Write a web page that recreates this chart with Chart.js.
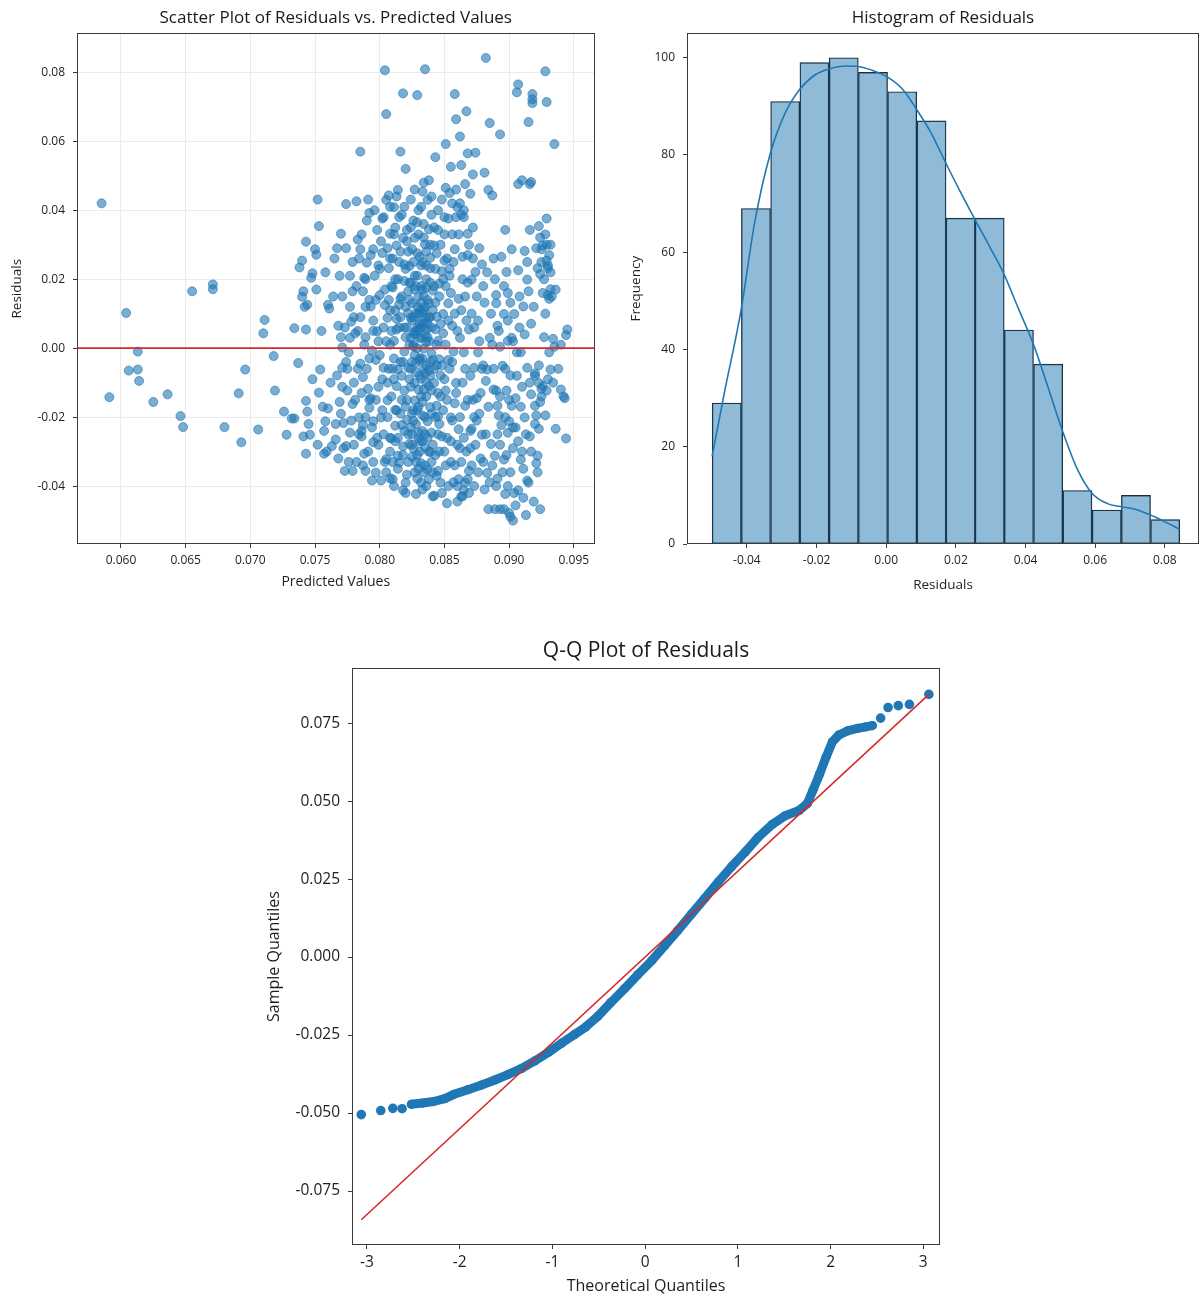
<!DOCTYPE html>
<html>
<head>
<meta charset="utf-8">
<title>Residual diagnostics</title>
<script src="https://cdn.jsdelivr.net/npm/chart.js@4.4.1/dist/chart.umd.min.js"></script>
<style>
  html, body { margin: 0; padding: 0; background: #fff; }
  body { width: 1201px; height: 1298px; position: relative; overflow: hidden; }
  .panel { position: absolute; }
  #scatter-wrap { left: 0; top: 0; width: 600px; height: 600px; }
  #hist-wrap { left: 600px; top: 0; width: 601px; height: 600px; }
  #qq-wrap { left: 250px; top: 630px; width: 700px; height: 668px; }
</style>
</head>
<body>
<div class="panel" id="scatter-wrap"><canvas id="scatter"></canvas></div>
<div class="panel" id="hist-wrap"><canvas id="hist"></canvas></div>
<div class="panel" id="qq-wrap"><canvas id="qq"></canvas></div>

<script>
// ---- data ----

// residuals vs predicted values: [predicted, residual]
const residualPoints = [
  [.0585,.0420],[.0591,-.0142],[.0604,.0102],[.0606,-.0065],[.0613,-.0062],[.0613,-.0010],[.0614,-.0095],[.0625,-.0156],
  [.0636,-.0134],[.0646,-.0197],[.0648,-.0229],[.0655,.0165],[.0671,.0185],[.0671,.0171],[.0680,-.0229],[.0691,-.0131],
  [.0693,-.0273],[.0696,-.0062],[.0706,-.0236],[.0710,.0043],[.0711,.0082],[.0718,-.0023],[.0719,-.0123],[.0726,-.0184],
  [.0728,-.0251],[.0732,-.0204],[.0734,-.0204],[.0734,.0058],[.0737,-.0043],[.0738,.0234],[.0740,.0254],[.0740,.0149],
  [.0741,.0165],[.0743,.0309],[.0743,.0054],[.0743,-.0153],[.0744,-.0184],[.0741,-.0256],[.0743,-.0306],[.0744,.0126],
  [.0746,-.0251],[.0747,.0204],[.0748,.0217],[.0750,.0287],[.0751,.0271],[.0752,.0431],[.0753,.0354],[.0753,-.0129],
  [.0754,-.0062],[.0757,-.0240],[.0757,-.0306],[.0758,-.0212],[.0760,-.0175],[.0760,.0126],[.0761,.0115],[.0763,-.0284],
  [.0765,.0260],[.0766,-.0265],[.0767,-.0079],[.0768,.0065],[.0769,-.0156],[.0769,.0210],[.0770,.0032],[.0770,.0332],
  [.0771,-.0057],[.0771,-.0112],[.0771,.0002],[.0772,-.0217],[.0773,-.0356],[.0774,-.0284],[.0774,.0418],[.0775,-.0123],
  [.0776,-.0012],[.0777,-.0245],[.0777,.0210],[.0778,.0077],[.0779,-.0162],[.0779,.0165],[.0779,-.0356],[.0781,.0043],
  [.0782,.0426],[.0783,.0315],[.0784,-.0201],[.0785,.0570],[.0785,.0287],[.0785,-.0045],[.0786,-.0256],[.0787,-.0223],
  [.0787,.0165],[.0787,-.0084],[.0788,.0204],[.0788,-.0306],[.0789,.0032],[.0789,-.0356],[.0790,.0248],[.0791,.0431],
  [.0791,-.0118],[.0792,.0392],[.0792,-.0173],[.0793,.0121],[.0793,-.0145],[.0794,-.0007],[.0794,-.0384],[.0795,-.0212],
  [.0795,.0287],[.0795,-.0273],[.0796,.0210],[.0797,-.0034],[.0797,-.0361],[.0798,.0343],[.0798,.0049],[.0799,-.0112],
  [.0800,.0154],[.0801,-.0384],[.0801,-.0201],[.0802,.0276],[.0802,.0376],[.0803,-.0057],[.0804,.0806],[.0805,-.0322],
  [.0805,.0679],[.0806,.0088],[.0806,-.0151],[.0807,.0443],[.0807,.0232],[.0808,-.0378],[.0808,.0010],[.0808,.0332],
  [.0809,-.0262],[.0810,.0176],[.0811,-.0090],[.0811,.0409],[.0811,-.0400],[.0812,-.0179],[.0813,.0298],[.0813,.0054],
  [.0814,.0459],[.0814,-.0312],[.0815,.0126],[.0816,-.0040],[.0816,.0570],[.0817,-.0223],[.0817,.0387],[.0818,-.0412],
  [.0818,.0739],[.0819,.0243],[.0819,-.0123],[.0820,.0520],[.0820,.0032],[.0821,.0343],[.0821,-.0367],[.0822,.0165],
  [.0822,-.0057],[.0823,-.0278],[.0824,.0431],[.0824,.0088],[.0825,-.0190],[.0825,.0287],[.0826,.0010],[.0827,-.0101],
  [.0827,.0210],[.0828,-.0423],[.0829,.0734],[.0829,.0365],[.0830,.0054],[.0830,-.0245],[.0831,-.0029],[.0831,.0265],
  [.0832,-.0334],[.0832,.0132],[.0833,-.0156],[.0833,.0454],[.0834,-.0001],[.0834,.0321],[.0835,.0809],[.0835,-.0073],
  [.0836,-.0400],[.0836,.0176],[.0837,.0032],[.0837,-.0212],[.0838,.0487],[.0838,.0088],[.0839,-.0301],[.0839,.0232],
  [.0840,-.0123],[.0840,.0387],[.0841,-.0034],[.0842,-.0428],[.0842,.0298],[.0843,.0132],[.0843,.0554],[.0844,-.0167],
  [.0845,.0021],[.0845,.0343],[.0845,-.0356],[.0846,.0187],[.0847,-.0079],[.0848,.0431],[.0848,-.0256],[.0849,.0099],
  [.0850,.0254],[.0851,-.0123],[.0851,.0592],[.0851,.0465],[.0852,-.0450],[.0853,-.0034],[.0853,.0376],[.0854,.0210],
  [.0855,-.0201],[.0855,.0526],[.0856,.0065],[.0857,-.0389],[.0858,.0737],[.0858,.0287],[.0859,.0664],[.0859,-.0101],
  [.0860,.0409],[.0860,-.0445],[.0861,.0143],[.0862,.0614],[.0862,-.0290],[.0863,.0531],[.0863,.0387],[.0864,.0265],
  [.0865,-.0012],[.0865,-.0412],[.0866,.0476],[.0866,-.0167],[.0867,.0687],[.0868,.0332],[.0868,.0565],[.0869,.0054],
  [.0869,-.0356],[.0870,.0448],[.0871,.0199],[.0871,-.0234],[.0872,.0504],[.0873,-.0057],[.0874,.0221],[.0874,.0567],
  [.0875,-.0145],[.0876,-.0012],[.0877,-.0190],[.0879,.0243],[.0879,-.0251],[.0881,.0509],[.0881,.0132],[.0882,-.0095],
  [.0882,.0842],[.0883,-.0062],[.0883,-.0362],[.0884,-.0467],[.0884,.0459],[.0885,-.0389],[.0885,.0653],[.0886,-.0278],
  [.0887,.0443],[.0887,.0010],[.0888,.0260],[.0889,-.0467],[.0889,-.0312],[.0890,-.0123],[.0890,.0154],[.0891,-.0167],
  [.0891,-.0378],[.0891,.0065],[.0892,-.0195],[.0893,-.0467],[.0893,.0620],[.0893,.0004],[.0894,-.0223],[.0894,.0265],
  [.0895,-.0051],[.0896,-.0323],[.0896,-.0467],[.0896,.0099],[.0897,.0343],[.0897,-.0423],[.0898,-.0123],[.0898,.0221],
  [.0899,-.0245],[.0899,.0160],[.0899,.0021],[.0900,-.0212],[.0900,-.0478],[.0901,-.0079],[.0901,.0132],[.0901,-.0489],
  [.0902,-.0167],[.0902,.0287],[.0903,-.0500],[.0903,-.0290],[.0904,.0099],[.0905,-.0456],[.0905,-.0145],[.0906,-.0012],
  [.0906,.0742],[.0907,-.0412],[.0907,.0476],[.0907,.0226],[.0907,.0765],[.0908,.0060],[.0909,-.0323],[.0909,-.0012],
  [.0910,-.0112],[.0910,.0487],[.0911,.0121],[.0911,-.0434],[.0912,-.0201],[.0912,.0282],[.0913,-.0484],[.0914,-.0057],
  [.0914,.0199],[.0914,-.0384],[.0915,.0165],[.0915,.0656],[.0916,.0476],[.0916,.0343],[.0916,-.0256],[.0917,.0482],
  [.0917,-.0134],[.0917,.0071],[.0918,.0737],[.0918,.0711],[.0918,.0722],[.0919,-.0445],[.0920,-.0073],[.0920,-.0167],
  [.0921,-.0334],[.0921,-.0195],[.0922,-.0312],[.0922,.0232],[.0923,-.0234],[.0923,.0354],[.0923,-.0101],[.0924,-.0467],
  [.0924,.0321],[.0924,-.0156],[.0924,.0215],[.0925,.0287],[.0925,-.0118],[.0926,.0160],[.0926,.0298],[.0927,.0032],
  [.0928,-.0195],[.0928,.0803],[.0929,.0254],[.0929,-.0123],[.0929,.0376],[.0929,.0714],[.0930,.0154],[.0930,.0232],
  [.0931,.0143],[.0931,-.0012],[.0932,.0171],[.0932,-.0062],[.0934,.0027],[.0935,.0592],[.0935,.0004],[.0936,-.0234],
  [.0940,-.0120],[.0943,-.0145],[.0944,-.0262],[.0944,.0038],[.0945,.0054],
  // dense core
  [.0822,.0102],[.0826,.0045],[.0829,.0121],[.0831,.0071],[.0834,.0152],[.0836,.0018],[.0828,-.0043],[.0832,-.0088],
  [.0838,-.0065],[.0824,-.0112],[.0827,-.0152],[.0833,-.0195],[.0839,-.0171],[.0821,-.0208],[.0830,-.0262],[.0835,-.0288],
  [.0825,-.0315],[.0840,-.0245],[.0843,-.0310],[.0818,-.0285],[.0815,-.0332],[.0837,-.0352],[.0829,-.0378],[.0845,-.0198],
  [.0847,-.0140],[.0842,-.0101],[.0846,-.0032],[.0849,.0043],[.0844,.0091],[.0841,.0167],[.0848,.0223],[.0839,.0262],
  [.0835,.0301],[.0829,.0275],[.0823,.0238],[.0819,.0195],[.0816,.0143],[.0813,.0085],[.0811,.0021],[.0814,-.0062],
  [.0817,-.0150],[.0812,-.0225],[.0808,-.0260],[.0806,-.0100],[.0804,.0125],[.0808,.0260],[.0812,.0350],[.0819,.0410],
  [.0826,.0370],[.0832,.0410],[.0838,.0345],[.0844,.0275],[.0851,.0180],[.0853,.0080],[.0856,-.0040],[.0858,-.0160],
  [.0852,-.0260],[.0855,-.0330],[.0860,-.0400],[.0863,-.0430],[.0861,-.0235],[.0864,-.0100],[.0862,.0030],[.0866,.0150],
  [.0868,.0270],[.0865,.0380],[.0859,.0460],[.0856,.0420],[.0850,.0330],[.0854,.0230],[.0840,.0440],[.0834,.0480],
  [.0827,.0460],[.0821,.0310],[.0815,.0250],[.0809,.0180],[.0803,.0060],[.0800,-.0020],[.0802,-.0180],[.0799,-.0280],
  [.0805,-.0360],[.0810,-.0330],[.0820,-.0390],[.0833,-.0410],[.0841,-.0430],[.0847,-.0390],[.0850,-.0300],[.0836,-.0140],
  [.0831,-.0035],[.0826,.0005],[.0836,.0055],[.0833,.0105],[.0828,.0180],[.0843,.0055],[.0840,-.0015],[.0824,-.0060],
  [.0819,.0060],[.0830,-.0120],[.0845,-.0250],[.0825,-.0250],[.0813,-.0180],[.0795,.0080],[.0792,-.0150],[.0789,.0120],
  [.0786,-.0240],[.0783,.0050],[.0780,-.0100],[.0777,.0120],[.0774,-.0040],[.0870,-.0290],[.0873,-.0200],[.0876,.0080],
  [.0878,-.0320],[.0868,-.0380],[.0872,.0350],[.0880,-.0050],[.0905,-.0230],[.0910,-.0300],[.0915,-.0390],[.0920,-.0080],
  [.0925,-.0140],[.0930,.0240],[.0932,.0300],[.0928,.0330],[.0897,-.0060],[.0893,-.0280],[.0888,-.0120],[.0885,.0030],
  [.0882,-.0250],[.0899,-.0400],[.0903,.0020],[.0890,.0130],
  [.0800,.0230],[.0801,.0310],[.0802,-.0090],[.0803,.0380],[.0803,-.0250],[.0804,.0170],[.0804,-.0330],[.0805,.0020],
  [.0805,.0430],[.0806,-.0200],[.0806,.0290],[.0807,-.0060],[.0807,.0140],[.0808,-.0300],[.0808,.0410],[.0809,.0050],
  [.0809,-.0140],[.0810,.0260],[.0810,-.0380],[.0811,.0330],[.0811,-.0030],[.0812,.0110],[.0812,-.0270],[.0813,.0440],
  [.0813,-.0110],[.0814,.0200],[.0814,-.0350],[.0815,.0060],[.0815,.0380],[.0816,-.0190],[.0816,.0280],[.0817,-.0080],
  [.0817,.0150],[.0818,-.0310],[.0818,.0320],[.0819,-.0010],[.0819,-.0240],[.0820,.0230],[.0820,-.0420],[.0820,.0120],
  [.0821,.0060],[.0821,-.0150],[.0822,.0280],[.0822,-.0330],[.0823,.0010],[.0823,.0190],[.0823,-.0090],[.0824,.0350],
  [.0824,-.0230],[.0825,.0080],[.0825,.0130],[.0825,-.0040],[.0826,-.0290],[.0826,.0250],[.0826,-.0180],[.0827,.0040],
  [.0827,.0320],[.0827,-.0360],[.0828,-.0070],[.0828,.0100],[.0828,-.0220],[.0829,.0210],[.0829,.0000],[.0829,-.0310],
  [.0830,.0150],[.0830,-.0170],[.0830,.0400],[.0831,-.0080],[.0831,.0110],[.0831,-.0270],[.0832,.0030],[.0832,.0240],
  [.0832,-.0390],[.0833,-.0030],[.0833,.0170],[.0833,-.0240],[.0834,.0070],[.0834,-.0120],[.0834,.0360],[.0835,-.0200],
  [.0835,.0120],[.0835,-.0340],[.0836,.0240],[.0836,-.0050],[.0836,.0090],[.0837,-.0260],[.0837,.0140],[.0837,.0430],
  [.0838,-.0110],[.0838,.0020],[.0838,-.0380],[.0839,.0190],[.0839,-.0080],[.0839,.0300],[.0840,.0060],[.0840,-.0190],
  [.0840,-.0330],[.0836,.0200],[.0832,.0060],[.0828,.0050],
  [.0841,.0110],[.0841,-.0280],[.0842,.0350],[.0842,-.0060],[.0843,-.0200],[.0843,.0230],[.0844,-.0370],[.0844,.0010],
  [.0845,.0400],[.0845,-.0130],[.0846,.0150],[.0846,-.0300],[.0847,.0070],[.0847,.0300],[.0848,-.0050],[.0848,-.0420],
  [.0849,.0200],[.0849,-.0180],[.0850,.0380],[.0850,-.0090],[.0851,.0010],[.0851,-.0340],[.0852,.0260],[.0852,-.0150],
  [.0853,.0130],[.0853,-.0400],[.0854,-.0060],[.0854,.0450],[.0855,-.0270],[.0855,.0160],[.0856,.0330],[.0856,-.0210],
  [.0857,-.0010],[.0857,.0250],[.0858,-.0340],[.0858,.0100],[.0859,-.0130],[.0859,.0380],[.0860,-.0280],[.0860,.0050],
  [.0861,-.0380],[.0861,.0330],[.0862,-.0200],[.0862,.0420],[.0863,-.0330],[.0863,.0110],[.0864,-.0430],[.0864,.0200],
  [.0865,-.0260],[.0865,.0400],[.0866,-.0060],[.0866,-.0390],[.0867,.0080],[.0867,-.0300],[.0868,-.0150],[.0868,.0190],
  [.0869,-.0420],[.0869,.0300],[.0870,-.0080],[.0870,-.0240],[.0871,.0100],[.0871,-.0340],[.0872,-.0150],[.0872,.0260],
  [.0873,-.0400],[.0873,.0060],[.0874,-.0280],[.0875,.0150],[.0875,-.0210],[.0876,-.0360],[.0877,.0020],[.0877,.0290],
  [.0878,-.0130],[.0879,-.0060],[.0880,-.0330],[.0880,.0180],
  [.0770,-.0190],[.0771,.0150],[.0772,-.0290],[.0773,.0060],[.0774,.0290],[.0775,-.0060],[.0776,-.0330],[.0777,.0030],
  [.0778,-.0210],[.0779,.0250],[.0780,-.0280],[.0780,.0090],[.0781,-.0150],[.0782,.0180],[.0782,-.0330],[.0783,-.0060],
  [.0784,.0260],[.0784,-.0250],[.0785,.0090],[.0786,.0330],[.0786,-.0130],[.0787,-.0340],[.0788,.0010],[.0789,.0200],
  [.0789,-.0200],[.0790,-.0060],[.0790,.0370],[.0791,-.0300],[.0792,.0140],[.0792,-.0030],[.0793,.0270],[.0794,-.0230],
  [.0795,.0050],[.0795,-.0330],[.0796,.0400],[.0797,-.0150],[.0797,.0140],[.0798,-.0260],[.0799,.0240],[.0799,.0020],
  [.0881,-.0410],[.0883,.0220],[.0884,-.0170],[.0886,.0100],[.0887,-.0340],[.0888,-.0060],[.0889,.0200],[.0890,-.0400],
  [.0891,-.0250],[.0892,.0050],[.0893,-.0140],[.0895,-.0360],[.0896,.0180],[.0897,-.0200],[.0898,-.0310],[.0899,.0080],
  [.0900,-.0150],[.0901,-.0360],[.0902,.0030],[.0903,-.0230],[.0904,-.0420],[.0906,-.0080],[.0907,-.0270],[.0908,.0150],
  [.0909,-.0170],[.0911,-.0350],[.0912,.0040],[.0913,-.0250],[.0914,.0250],[.0916,-.0100],[.0917,-.0300],[.0919,.0120],
  [.0920,-.0220],[.0921,.0290],[.0922,-.0360],[.0923,-.0050],[.0925,.0250],[.0926,-.0110],[.0927,.0200],[.0928,.0100],
  [.0929,.0300],[.0930,-.0090],[.0931,.0270],[.0932,.0220],[.0933,.0150],[.0934,-.0100],[.0936,.0170],[.0938,-.0060],
  [.0940,.0010],[.0942,-.0140],
  [.0742,.0120],[.0745,-.0220],[.0748,-.0090],[.0751,.0170],[.0752,-.0280],[.0755,.0050],[.0756,-.0170],[.0758,.0220],
  [.0759,-.0300],[.0762,-.0100],[.0764,.0150],[.0766,-.0220],[.0767,.0290],[.0768,-.0320],
  [.0823,.0140],[.0824,.0030],[.0826,.0090],[.0827,.0170],[.0829,.0060],[.0830,.0100],[.0831,.0030],[.0833,.0080],
  [.0834,.0110],[.0835,.0040],[.0837,.0070],[.0838,.0130],[.0825,-.0280],[.0828,-.0330],[.0831,-.0300],[.0833,-.0270],
  [.0835,-.0250],[.0838,-.0300],[.0834,-.0360],[.0830,-.0350],[.0826,-.0210],[.0832,-.0140],[.0836,-.0100],[.0839,-.0040],
  [.0829,-.0180],[.0834,-.0060],[.0827,-.0020],[.0832,.0180],[.0836,.0280],[.0830,.0330],[.0833,.0250],[.0839,.0090],
  [.0842,.0180],[.0844,-.0050],[.0846,-.0220],[.0841,-.0360],[.0818,-.0040],[.0816,.0090],[.0814,-.0260],[.0812,.0200],
  [.0810,-.0060],[.0808,.0110],[.0820,-.0170],[.0822,-.0250],[.0824,.0190]
]
const scatterXRange = [0.0566, 0.0966]
const scatterYRange = [-0.0568, 0.0913]
const scatterXTicks = [0.060, 0.065, 0.070, 0.075, 0.080, 0.085, 0.090, 0.095]
const scatterYTicks = [-0.04, -0.02, 0.00, 0.02, 0.04, 0.06, 0.08]

// histogram of residuals
const binEdges = [-0.0500, -0.0416, -0.0332, -0.0248, -0.0164, -0.0080, 0.0004, 0.0088, 0.0172,
  0.0255, 0.0339, 0.0423, 0.0507, 0.0591, 0.0675, 0.0759, 0.0843]
const binCounts = [29, 69, 91, 99, 100, 97, 93, 87, 67, 67, 44, 37, 11, 7, 10, 5]
const kdeX = [-0.0500, -0.0465, -0.0417, -0.0378, -0.0334, -0.0291, -0.0248, -0.0204, -0.0164, -0.0117, -0.0080,
  -0.0040, 0.0004, 0.0047, 0.0086, 0.0129, 0.0170, 0.0210, 0.0254, 0.0298, 0.0338, 0.0379, 0.0423, 0.0461,
  0.0505, 0.0548, 0.0590, 0.0635, 0.0672, 0.0712, 0.0757, 0.0799, 0.0843]
const kdeY = [18, 31, 48, 66, 80, 88.5, 93.5, 96.5, 97.7, 98.3, 98.2, 97.4, 96.0, 93.5, 89.5, 84.5, 78.5,
  72.8, 66.8, 61, 55.5, 48.5, 41, 33, 23.5, 15.5, 10.5, 8.3, 7.7, 7.2, 6.0, 4.6, 3.0]
const histXRange = [-0.0572, 0.0898]
const histYRange = [0, 105]
const histXTicks = [-0.04, -0.02, 0.00, 0.02, 0.04, 0.06, 0.08]
const histYTicks = [0, 20, 40, 60, 80, 100]

// Q-Q plot: theoretical vs sample quantiles
const qqLowT = [-3.06, -2.85, -2.72, -2.62]
const qqLowS = [-0.0505, -0.0492, -0.0485, -0.0486]
const qqMidT = [-2.52, -2.40, -2.28, -2.16, -2.06, -1.91, -1.77, -1.62, -1.48, -1.33, -1.19, -1.04, -0.90,
  -0.76, -0.64, -0.51, -0.37, -0.22, -0.08, 0.07, 0.21, 0.35, 0.50, 0.64, 0.79, 0.93, 1.08, 1.22, 1.37,
  1.51, 1.66, 1.75, 1.81, 1.88, 1.95, 2.02, 2.09, 2.19, 2.29, 2.38, 2.45]
const qqMidS = [-0.0472, -0.0468, -0.0463, -0.0454, -0.0440, -0.0425, -0.0411, -0.0394, -0.0377, -0.0357,
  -0.0333, -0.0305, -0.0276, -0.0248, -0.0224, -0.0190, -0.0146, -0.0101, -0.0057, -0.0012, 0.0036, 0.0084,
  0.0138, 0.0187, 0.0241, 0.0289, 0.0337, 0.0384, 0.0425, 0.0453, 0.0470, 0.0492, 0.0535, 0.0585, 0.0640,
  0.0690, 0.0712, 0.0726, 0.0733, 0.0738, 0.0742]
const qqHighT = [2.54, 2.62, 2.73, 2.85, 3.06]
const qqHighS = [0.0766, 0.0800, 0.0806, 0.0810, 0.0842]
const qqLineT = [-3.06, 3.06]
const qqLineS = [-0.0842, 0.0842]
const qqXRange = [-3.16, 3.18]
const qqYRange = [-0.0923, 0.0926]
const qqXTicks = [-3, -2, -1, 0, 1, 2, 3]
const qqYTicks = [-0.075, -0.050, -0.025, 0.000, 0.025, 0.050, 0.075]

// ---- styling ----
const FONT = '"Open Sans", "Noto Sans", sans-serif'
const BLUE = '#1f77b4'
const RED = '#d62a2a'
const TEXT = '#1e1e1e'
Chart.defaults.font.family = FONT
Chart.defaults.color = TEXT

const framePlugin = {
  id: 'frame',
  afterDraw(chart) {
    const { ctx, chartArea: a } = chart
    ctx.save()
    ctx.strokeStyle = '#3b3b3b'
    ctx.lineWidth = 1
    ctx.strokeRect(Math.round(a.left) + 0.5, Math.round(a.top) + 0.5,
      Math.round(a.right - a.left) - 1, Math.round(a.bottom - a.top) - 1)
    ctx.restore()
  }
}

function scale(o) {
  return {
    type: 'linear',
    min: o.range[0],
    max: o.range[1],
    offset: false,
    afterBuildTicks: s => { s.ticks = o.ticks.map(v => ({ value: v })) },
    afterFit: s => { if (o.horizontal) s.height = o.size; else s.width = o.size },
    ticks: {
      autoSkip: false,
      maxRotation: 0,
      color: TEXT,
      padding: o.tickPad,
      font: { size: o.tickSize },
      callback: v => o.fmt(v)
    },
    grid: {
      display: true,
      drawOnChartArea: !!o.grid,
      color: '#ebebeb',
      tickColor: '#3b3b3b',
      tickLength: 4,
      offset: false
    },
    border: { display: false },
    title: {
      display: true,
      text: o.title,
      color: TEXT,
      font: { size: o.titleSize },
      padding: o.titlePad
    }
  }
}

function baseOptions(title, titleSize, titlePad, padRight, scales) {
  return {
    responsive: true,
    maintainAspectRatio: false,
    animation: false,
    layout: { padding: { left: 0, right: padRight, top: 0, bottom: 0 } },
    plugins: {
      legend: { display: false },
      tooltip: { enabled: false },
      title: {
        display: true,
        text: title,
        color: '#1a1a1a',
        fullSize: false,
        font: { size: titleSize, weight: 'normal' },
        padding: titlePad
      }
    },
    scales
  }
}

// ---- scatter of residuals ----
new Chart(document.getElementById('scatter'), {
  type: 'scatter',
  data: {
    datasets: [
      {
        data: residualPoints.map(([x, y]) => ({ x, y })),
        pointRadius: 4.5,
        pointHoverRadius: 4.5,
        backgroundColor: 'rgba(31,119,180,0.6)',
        borderColor: 'rgba(31,119,180,0.6)',
        borderWidth: 1,
        order: 1
      },
      {
        type: 'line',
        data: [{ x: scatterXRange[0], y: 0 }, { x: scatterXRange[1], y: 0 }],
        borderColor: RED,
        borderWidth: 1.6,
        pointRadius: 0,
        order: 0
      }
    ]
  },
  options: baseOptions('Scatter Plot of Residuals vs. Predicted Values', 17, { top: 8, bottom: 5 }, 3, {
    x: scale({ range: scatterXRange, ticks: scatterXTicks, fmt: v => v.toFixed(3), horizontal: true, size: 56,
      tickPad: 5, tickSize: 12, grid: true, title: 'Predicted Values', titleSize: 14, titlePad: { top: 0, bottom: 9.5 } }),
    y: scale({ range: scatterYRange, ticks: scatterYTicks, fmt: v => v.toFixed(2), size: 77,
      tickPad: 8, tickSize: 12, grid: true, title: 'Residuals', titleSize: 13.5, titlePad: { top: 9, bottom: 0 } })
  }),
  plugins: [framePlugin]
})

// ---- histogram with kde ----
new Chart(document.getElementById('hist'), {
  type: 'bar',
  data: {
    datasets: [
      {
        type: 'line',
        data: kdeX.map((x, i) => ({ x, y: kdeY[i] })),
        borderColor: BLUE,
        borderWidth: 1.6,
        pointRadius: 0,
        cubicInterpolationMode: 'monotone',
        order: 0
      },
      {
        type: 'bar',
        data: binCounts.map((c, i) => ({ x: (binEdges[i] + binEdges[i + 1]) / 2, y: c })),
        backgroundColor: 'rgba(31,119,180,0.5)',
        borderColor: '#1b232b',
        borderWidth: 0.75,
        borderSkipped: false,
        barPercentage: 1,
        categoryPercentage: 1,
        order: 1
      }
    ]
  },
  options: baseOptions('Histogram of Residuals', 17, { top: 8, bottom: 5 }, 2, {
    x: scale({ range: histXRange, ticks: histXTicks, fmt: v => v.toFixed(2), horizontal: true, size: 56,
      tickPad: 5, tickSize: 12, title: 'Residuals', titleSize: 13.5, titlePad: { top: 0, bottom: 7 } }),
    y: scale({ range: histYRange, ticks: histYTicks, fmt: v => String(v), size: 87,
      tickPad: 8, tickSize: 12, title: 'Frequency', titleSize: 13.5, titlePad: { top: 28, bottom: 0 } })
  }),
  plugins: [framePlugin]
})

// ---- Q-Q plot ----
const pts = (t, s) => t.map((x, i) => ({ x, y: s[i] }))
new Chart(document.getElementById('qq'), {
  type: 'scatter',
  data: {
    datasets: [
      {
        type: 'line',
        data: pts(qqLineT, qqLineS),
        borderColor: RED,
        borderWidth: 1.6,
        pointRadius: 0,
        order: 0
      },
      {
        type: 'line',
        data: pts(qqMidT, qqMidS),
        borderColor: BLUE,
        borderWidth: 9,
        borderCapStyle: 'round',
        borderJoinStyle: 'round',
        pointRadius: 4.6,
        pointBackgroundColor: BLUE,
        pointBorderWidth: 0,
        order: 1
      },
      {
        data: pts(qqLowT, qqLowS).concat(pts(qqHighT, qqHighS)),
        pointRadius: 4.8,
        backgroundColor: BLUE,
        borderWidth: 0,
        order: 1
      }
    ]
  },
  options: baseOptions('Q-Q Plot of Residuals', 21, { top: 8.5, bottom: 4.5 }, 10, {
    x: scale({ range: qqXRange, ticks: qqXTicks, fmt: v => String(v), horizontal: true, size: 53,
      tickPad: 4.5, tickSize: 15.5, title: 'Theoretical Quantiles', titleSize: 16, titlePad: { top: 0, bottom: 1.5 } }),
    y: scale({ range: qqYRange, ticks: qqYTicks, fmt: v => v.toFixed(3), size: 102,
      tickPad: 8, tickSize: 15.5, title: 'Sample Quantiles', titleSize: 16, titlePad: { top: 14.5, bottom: 0 } })
  }),
  plugins: [framePlugin]
})
</script>
</body>
</html>
